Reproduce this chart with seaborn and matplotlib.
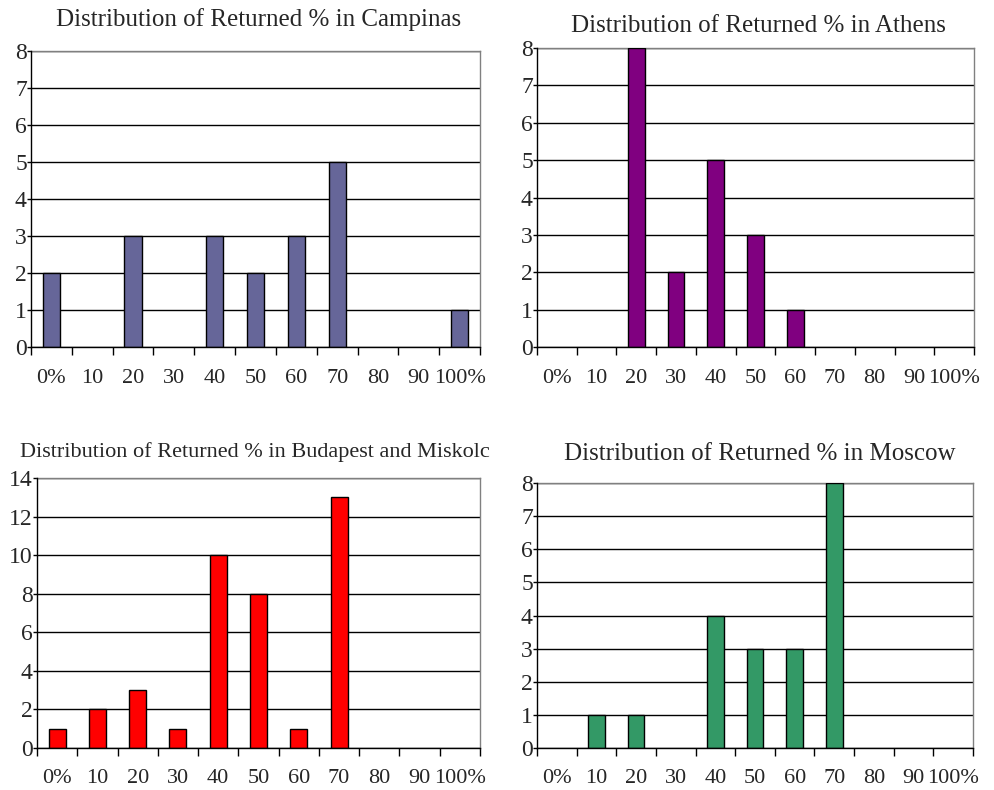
import matplotlib
matplotlib.use("Agg")
import matplotlib.pyplot as plt
import seaborn as sns
import pandas as pd
from matplotlib.ticker import FixedLocator, MultipleLocator

# Histogram bins of the returned percentage
categories = ["0%", "10", "20", "30", "40", "50", "60", "70", "80", "90", "100%"]

campinas = [2, 0, 3, 0, 3, 2, 3, 5, 0, 0, 1]
athens = [0, 0, 8, 2, 5, 3, 1, 0, 0, 0, 0]
budapest_miskolc = [1, 2, 3, 1, 10, 8, 1, 13, 0, 0, 0]
moscow = [0, 1, 1, 0, 4, 3, 3, 8, 0, 0, 0]

titles = [
    "Distribution of Returned % in Campinas",
    "Distribution of Returned % in Athens",
    "Distribution of Returned % in Budapest and Miskolc",
    "Distribution of Returned % in Moscow",
]
colors = ["#666699", "#800080", "#FF0000", "#339966"]

sns.set_style("white")
plt.rcParams["font.family"] = ["Liberation Serif", "DejaVu Serif"]

W, H = 995, 790
fig = plt.figure(figsize=(W / 100, H / 100), dpi=100)

# panel boxes in pixels: left, top, right, bottom
boxes = [
    (31, 51, 480, 347),
    (537, 48, 974, 347),
    (37, 478, 480, 748),
    (537, 483, 973, 748),
]
title_pos = [(259, 20), (758, 26), (255, 452), (760, 454)]
title_size = [18, 18, 16, 18]
ymax = [8, 8, 14, 8]
ystep = [1, 1, 2, 1]
label_pad = [16, 16, 15, 15]
series = [campinas, athens, budapest_miskolc, moscow]

for vals, title, col, (l, t, r, b), (tx, ty), ts, ym, ys, lp in zip(
        series, titles, colors, boxes, title_pos, title_size, ymax, ystep, label_pad):
    ax = fig.add_axes([l / W, 1 - b / H, (r - l) / W, (b - t) / H])
    df = pd.DataFrame({"bin": categories, "count": vals})
    sns.barplot(data=df, x="bin", y="count", order=categories, color=col,
                saturation=1, width=0.42, edgecolor="black", linewidth=1,
                ax=ax, zorder=3)
    # empty bins leave no outline on the axis
    for patch in ax.patches:
        if patch.get_height() == 0:
            patch.set_visible(False)
    ax.set_xlim(-0.5, len(categories) - 0.5)
    ax.set_ylim(0, ym)
    ax.yaxis.set_major_locator(MultipleLocator(ys))
    ax.grid(axis="y", color="black", linewidth=1, zorder=0)
    ax.grid(axis="x", visible=False)
    ax.set_xlabel("")
    ax.set_ylabel("")
    ax.xaxis.set_minor_locator(FixedLocator([i - 0.5 for i in range(len(categories) + 1)]))
    ax.tick_params(axis="x", which="major", length=0, pad=lp, labelsize=16)
    ax.tick_params(axis="x", which="minor", length=6, width=1, color="black",
                   direction="out", bottom=True)
    ax.tick_params(axis="y", length=3, width=1, color="black", direction="out",
                   left=True, pad=0, labelsize=17)
    for side in ("left", "bottom"):
        ax.spines[side].set_color("black")
        ax.spines[side].set_linewidth(1)
        ax.spines[side].set_zorder(4)
    for side in ("top", "right"):
        ax.spines[side].set_color("#808080")
        ax.spines[side].set_linewidth(1)
    fig.text(tx / W, 1 - ty / H, title, ha="center", va="center", fontsize=ts)

fig.savefig("out.png", dpi=100)
